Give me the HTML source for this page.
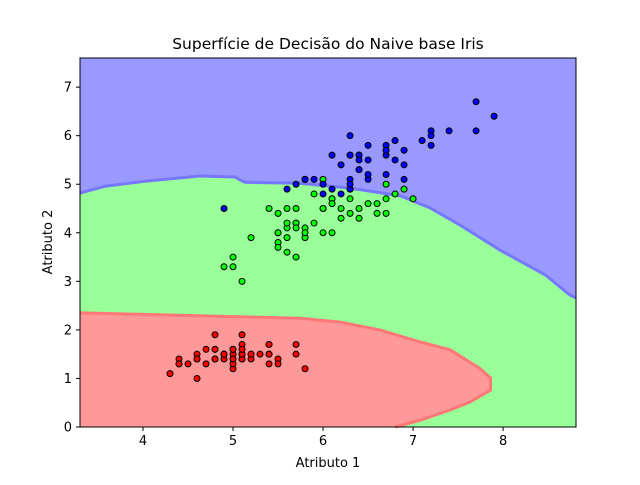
<!DOCTYPE html>
<html><head><meta charset="utf-8"><style>
body{margin:0;background:#fff;font-family:"Liberation Sans","DejaVu Sans",sans-serif;}
svg text{font-family:"DejaVu Sans","Liberation Sans",sans-serif;}
</style></head><body>
<svg id="chart" width="640" height="480" xmlns="http://www.w3.org/2000/svg">
<rect width="640" height="480" fill="#fff"/>
<text x="328" y="49" font-size="15.5" text-anchor="middle">Superfície de Decisão do Naive base Iris</text>
<g id="plot"></g>
<text x="328" y="467" font-size="13" text-anchor="middle">Atributo 1</text>
<text x="0" y="0" font-size="13" text-anchor="middle" transform="translate(52,242) rotate(-90)">Atributo 2</text>
</svg>
<script>
const xTicks=[4,5,6,7,8];
const yTicks=[0,1,2,3,4,5,6,7];
const blueGreenBoundary=[[3.3,4.82],[3.58,4.96],[4.02,5.06],[4.63,5.17],[5.02,5.15],[5.13,5.04],[5.74,5.02],[6.3,4.92],[6.86,4.76],[7.19,4.51],[7.52,4.16],[7.97,3.64],[8.47,3.13],[8.74,2.72],[8.81,2.66]];
const redBoundary=[[3.3,2.35],[5.74,2.24],[6.19,2.16],[6.63,2.0],[7.08,1.75],[7.41,1.59],[7.74,1.21],[7.86,1.01],[7.86,0.76],[7.63,0.51],[7.41,0.35],[7.08,0.14],[6.8,0]];
const setosaX=[5.1,4.9,4.7,4.6,5.0,5.4,4.6,5.0,4.4,4.9,5.4,4.8,4.8,4.3,5.8,5.7,5.4,5.1,5.7,5.1,5.4,5.1,4.6,5.1,4.8,5.0,5.0,5.2,5.2,4.7,4.8,5.4,5.2,5.5,4.9,5.0,5.5,4.9,4.4,5.1,5.0,4.5,4.4,5.0,5.1,4.8,5.1,4.6,5.3,5.0];
const setosaY=[1.4,1.4,1.3,1.5,1.4,1.7,1.4,1.5,1.4,1.5,1.5,1.6,1.4,1.1,1.2,1.5,1.3,1.4,1.7,1.5,1.7,1.5,1.0,1.7,1.9,1.6,1.6,1.5,1.4,1.6,1.6,1.5,1.5,1.4,1.5,1.2,1.3,1.5,1.3,1.5,1.3,1.3,1.3,1.6,1.9,1.4,1.6,1.4,1.5,1.4];
const versiX=[7.0,6.4,6.9,5.5,6.5,5.7,6.3,4.9,6.6,5.2,5.0,5.9,6.0,6.1,5.6,6.7,5.6,5.8,6.2,5.6,5.9,6.1,6.3,6.1,6.4,6.6,6.8,6.7,6.0,5.7,5.5,5.5,5.8,6.0,5.4,6.0,6.7,6.3,5.6,5.5,5.5,6.1,5.8,5.0,5.6,5.7,5.7,6.2,5.1,5.7];
const versiY=[4.7,4.5,4.9,4.0,4.6,4.5,4.7,3.3,4.6,3.9,3.5,4.2,4.0,4.7,3.6,4.4,4.5,4.1,4.5,3.9,4.8,4.0,4.9,4.7,4.3,4.4,4.8,5.0,4.5,3.5,3.8,3.7,3.9,5.1,4.5,4.5,4.7,4.4,4.1,4.0,4.4,4.6,4.0,3.3,4.2,4.2,4.2,4.3,3.0,4.1];
const virgX=[6.3,5.8,7.1,6.3,6.5,7.7,4.9,6.7,7.2,6.5,6.4,6.8,5.7,5.8,6.4,6.5,6.0,6.9,5.6,6.3,6.7,7.2,6.2,6.1,6.4,7.2,7.4,7.9,6.4,6.3,6.1,7.7,6.3,6.4,6.0,6.9,6.7,6.9,5.8,6.8,6.7,6.7,6.3,6.5,6.2,5.9];
const virgY=[6.0,5.1,5.9,5.6,5.8,6.7,4.5,5.8,6.1,5.1,5.3,5.5,5.0,5.1,5.3,5.5,5.0,5.7,4.9,4.9,5.7,6.0,4.8,4.9,5.6,5.8,6.1,6.4,5.6,5.1,5.6,6.1,5.6,5.5,4.8,5.4,5.6,5.1,5.1,5.9,5.7,5.2,5.0,5.2,5.4,5.1];

const L=80,R=576,T=58,B=427,xMin=3.3,xMax=8.81,yMin=0,yMax=7.6;
const sx=v=>L+(v-xMin)/(xMax-xMin)*(R-L);
const sy=v=>B-(v-yMin)/(yMax-yMin)*(B-T);
const NS="http://www.w3.org/2000/svg";
const g=document.getElementById('plot');
function mk(t,a){const e=document.createElementNS(NS,t);for(const k in a)e.setAttribute(k,a[k]);g.appendChild(e);return e;}
const pts=arr=>arr.map(p=>sx(p[0]).toFixed(1)+','+sy(p[1]).toFixed(1)).join(' ');

let e=mk('rect',{x:L,y:T,width:R-L,height:B-T,fill:'#9999ff'});


e=mk('polygon',{points:pts(blueGreenBoundary)+' '+sx(xMax)+','+sy(0)+' '+sx(xMin)+','+sy(0),fill:'#99ff99'});


e=mk('polyline',{points:pts(blueGreenBoundary),fill:'none',stroke:'#7777ff','stroke-width':3});


e=mk('polygon',{points:pts(redBoundary)+' '+sx(xMin)+','+sy(0),fill:'#ff9999'});


e=mk('polyline',{points:pts(redBoundary),fill:'none',stroke:'#ff7777','stroke-width':3});



function scatter(xs,ys,col,name){
  xs.forEach((x,i)=>{
    const c=mk('circle',{cx:sx(x),cy:sy(ys[i]),r:3,fill:col,stroke:'#000','stroke-width':1});
    
    
  });
}
scatter(setosaX,setosaY,'#ff0000','point-setosa');
scatter(versiX,versiY,'#00ff00','point-versicolor');
scatter(virgX,virgY,'#0000ff','point-virginica');

e=mk('rect',{x:L,y:T,width:R-L,height:B-T,fill:'none',stroke:'#000','stroke-width':1});



xTicks.forEach(t=>{
  mk('line',{x1:sx(t),x2:sx(t),y1:B,y2:B+4,stroke:'#000'});
  const tx=mk('text',{x:sx(t),y:B+18,'font-size':13,'text-anchor':'middle'});
  tx.textContent=t;
  
  
});
yTicks.forEach(t=>{
  mk('line',{x1:L-4,x2:L,y1:sy(t),y2:sy(t),stroke:'#000'});
  const tx=mk('text',{x:L-8,y:sy(t)+4.5,'font-size':13,'text-anchor':'end'});
  tx.textContent=t;
  
  
});
</script>
</body></html>
